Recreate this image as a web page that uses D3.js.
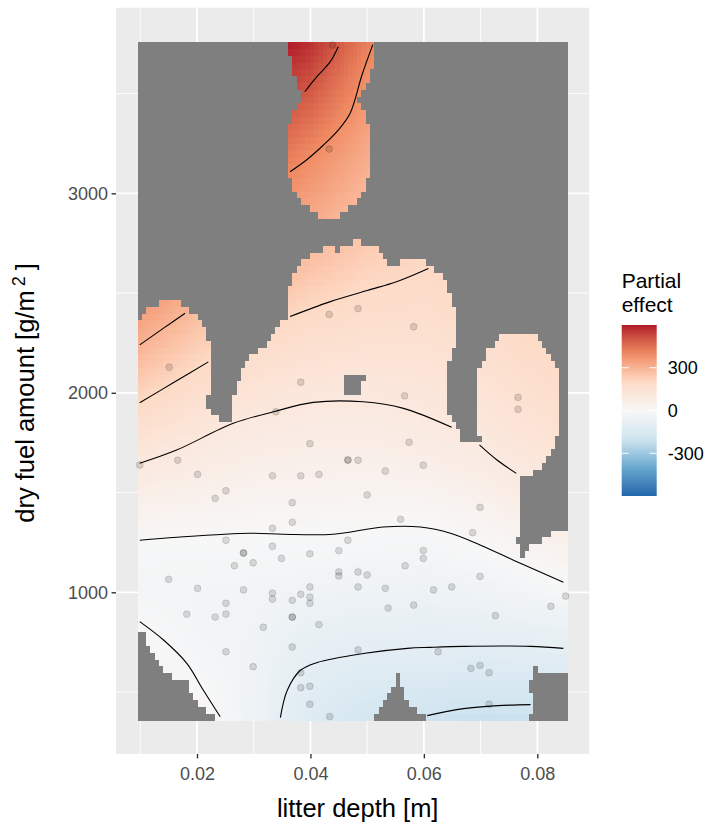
<!DOCTYPE html>
<html>
<head>
<meta charset="utf-8">
<script src="https://cdn.jsdelivr.net/npm/d3@7"></script>
<style>
  body { margin: 0; background: #fff; }
  text { font-family: "Liberation Sans", Arial, sans-serif; }
</style>
</head>
<body>
<div id="grafico"></div>
<script>
const WIDTH = 706;
const HEIGHT = 829;

// observations: litter depth [m] and dry fuel amount [g/m2]
const litterDepth = [0.0151,0.0433,0.0484,0.0582,0.0383,0.0566,0.0766,0.0766,0.0339,0.0399,
  0.0574,0.0099,0.0166,0.0466,0.0466,0.0484,0.0201,0.0333,0.0383,0.0415,
  0.0532,0.0599,0.0251,0.0232,0.0500,0.0368,0.0699,0.0559,0.0368,0.0333,
  0.0686,0.0251,0.0466,0.0333,0.0282,0.0282,0.0450,0.0599,0.0399,0.0349,
  0.0599,0.0299,0.0266,0.0567,0.0450,0.0450,0.0484,0.0500,0.0699,0.0150,
  0.0201,0.0282,0.0399,0.0484,0.0532,0.0617,0.0649,0.0333,0.0333,0.0383,
  0.0399,0.0368,0.0399,0.0251,0.0251,0.0182,0.0232,0.0368,0.0368,0.0537,
  0.0582,0.0824,0.0850,0.0726,0.0415,0.0317,0.0368,0.0251,0.0484,0.0625,
  0.0299,0.0683,0.0699,0.0715,0.0383,0.0383,0.0399,0.0399,0.0715,0.0434,
  0.0439,0.0433];
const dryFuel = [2128,2393,2422,2331,2053,1985,1977,1917,1905,1745,
  1752,1638,1662,1663,1663,1662,1591,1584,1584,1591,
  1608,1637,1509,1471,1488,1449,1426,1366,1351,1321,
  1299,1261,1261,1231,1197,1197,1209,1209,1193,1170,
  1170,1148,1133,1133,1102,1082,1102,1087,1080,1065,
  1020,1012,1027,1027,1020,1012,1027,996,966,990,
  976,960,945,945,891,891,876,876,876,921,
  936,930,981,883,838,825,726,702,711,702,
  627,619,634,597,597,522,529,439,439,377,
  3743,3222];

const gridDepth = [0.01, 0.02, 0.03, 0.04, 0.05, 0.06, 0.07, 0.0856];
const gridFuel = [370, 600, 800, 1000, 1200, 1400, 1600, 1800, 2000,
  2200, 2400, 2600, 2800, 3000, 3200, 3400, 3750];
const partialEffect = [
  [50, 30, -50, -135, -178, -205, -215, -210],
  [20, -8, -45, -106, -130, -136, -145, -135],
  [5, -25, -40, -76, -83, -87, -86, -75],
  [-20, -25, -30, -45, -51, -54, -47, -12],
  [-10, -10, -12, -14, -18, -21, -7, 40],
  [36, 27, 18, 17, 14, 13, 32, 88],
  [88, 70, 52, 47, 45, 50, 72, 125],
  [150, 116, 86, 77, 76, 86, 108, 155],
  [217, 168, 130, 110, 107, 115, 136, 180],
  [286, 220, 180, 153, 143, 143, 165, 205],
  [350, 275, 236, 196, 178, 171, 193, 230],
  [415, 330, 300, 250, 215, 199, 220, 255],
  [480, 385, 360, 300, 250, 225, 245, 280],
  [545, 440, 420, 350, 285, 250, 270, 305],
  [610, 500, 480, 398, 320, 275, 295, 330],
  [675, 560, 540, 462, 355, 300, 320, 355],
  [790, 670, 650, 570, 420, 345, 360, 400]
];

// contour lines as seen in the plot [depth, fuel]
const contours = [
  [[0.0099,1261],[0.0165,1276],[0.0294,1296],[0.0352,1291],[0.0440,1291],[0.0528,1327],
   [0.0594,1327],[0.0647,1296],[0.0700,1236],[0.0758,1161],[0.0846,1050]],
  [[0.0099,853],[0.0141,761],[0.0182,644],[0.0211,510],[0.0241,376]],
  [[0.0347,372],[0.0359,508],[0.0382,608],[0.0412,648],[0.0493,693],[0.0571,719],
   [0.0611,724],[0.0670,729],[0.0788,729],[0.0846,719]],
  [[0.0606,382],[0.0670,417],[0.0730,432],[0.0788,437]],
  [[0.0099,1647],[0.0164,1713],[0.0264,1847],[0.0335,1905],[0.0405,1952],[0.0493,1955],
   [0.0564,1922],[0.0649,1827]],
  [[0.0698,1739],[0.0729,1663],[0.0763,1596]],
  [[0.0099,1950],[0.0158,2050],[0.0220,2155]],
  [[0.0099,2240],[0.0141,2324],[0.0179,2399]],
  [[0.0364,2382],[0.0435,2457],[0.0500,2513],[0.0553,2558],[0.0608,2623]],
  [[0.0364,3108],[0.0393,3167],[0.0423,3242],[0.0449,3317],[0.0470,3401],[0.0491,3594],[0.0510,3745]],
  [[0.0390,3509],[0.0411,3584],[0.0435,3660],[0.0449,3735]]
];

const xTicks = [0.02, 0.04, 0.06, 0.08];
const xMinor = [0.01, 0.03, 0.05, 0.07];
const yTicks = [1000, 2000, 3000];
const yMinor = [500, 1500, 2500, 3500];
const legendTicks = [-300, 0, 300];
const effectLimits = [-600, 600];

let svg = d3.select("#grafico")
    .append("svg")
    .attr("width", WIDTH)
    .attr("height", HEIGHT);

let x = d3.scaleLinear().domain([0.02, 0.08]).range([197, 537.3]);
let y = d3.scaleLinear().domain([1000, 3000]).range([592.3, 193.3]);

let color = d3.scaleLinear()
    .domain(d3.range(7).map(i => effectLimits[0] + i * (effectLimits[1] - effectLimits[0]) / 6))
    .range(["#2166AC", "#67A9CF", "#D1E5F0", "#F7F7F7", "#FDDBC7", "#EF8A62", "#B2182B"])
    .interpolate(d3.interpolateLab)
    .clamp(true);

// grid of the raster, 100 x 100 over the data range
const N = 100;
let xr = d3.extent(litterDepth);
let yr = d3.extent(dryFuel);
let stepX = (xr[1] - xr[0]) / (N - 1);
let stepY = (yr[1] - yr[0]) / (N - 1);
let gx = d3.range(N).map(i => xr[0] + i * stepX);
let gy = d3.range(N).map(j => yr[0] + j * stepY);

// panel limits: raster extent plus 5% on each side
let limX = [xr[0] - stepX / 2, xr[1] + stepX / 2];
let limY = [yr[0] - stepY / 2, yr[1] + stepY / 2];
let padX = (limX[1] - limX[0]) * 0.05;
let padY = (limY[1] - limY[0]) * 0.05;
let panelLeft = x(limX[0] - padX), panelRight = x(limX[1] + padX);
let panelTop = y(limY[1] + padY), panelBottom = y(limY[0] - padY);

svg.append("rect")
    .attr("x", panelLeft).attr("y", panelTop)
    .attr("width", panelRight - panelLeft).attr("height", panelBottom - panelTop)
    .attr("fill", "#EBEBEB");

svg.selectAll(".minorX").data(xMinor).enter().append("line")
    .attr("x1", d => x(d)).attr("x2", d => x(d))
    .attr("y1", panelTop).attr("y2", panelBottom)
    .attr("stroke", "#fff").attr("stroke-width", 0.9);
svg.selectAll(".minorY").data(yMinor).enter().append("line")
    .attr("y1", d => y(d)).attr("y2", d => y(d))
    .attr("x1", panelLeft).attr("x2", panelRight)
    .attr("stroke", "#fff").attr("stroke-width", 0.9);
svg.selectAll(".majorX").data(xTicks).enter().append("line")
    .attr("x1", d => x(d)).attr("x2", d => x(d))
    .attr("y1", panelTop).attr("y2", panelBottom)
    .attr("stroke", "#fff").attr("stroke-width", 1.8);
svg.selectAll(".majorY").data(yTicks).enter().append("line")
    .attr("y1", d => y(d)).attr("y2", d => y(d))
    .attr("x1", panelLeft).attr("x2", panelRight)
    .attr("stroke", "#fff").attr("stroke-width", 1.8);

function effectAt(px, py) {
    let i = Math.min(Math.max(d3.bisectRight(gridDepth, px) - 1, 0), gridDepth.length - 2);
    let j = Math.min(Math.max(d3.bisectRight(gridFuel, py) - 1, 0), gridFuel.length - 2);
    let tx = Math.min(Math.max((px - gridDepth[i]) / (gridDepth[i + 1] - gridDepth[i]), 0), 1);
    let ty = Math.min(Math.max((py - gridFuel[j]) / (gridFuel[j + 1] - gridFuel[j]), 0), 1);
    let a = partialEffect[j][i], b = partialEffect[j][i + 1];
    let c = partialEffect[j + 1][i], d = partialEffect[j + 1][i + 1];
    return (a * (1 - tx) + b * tx) * (1 - ty) + (c * (1 - tx) + d * tx) * ty;
}

// too far from data -> masked (distance in unit square)
function tooFar(px, py) {
    let best = Infinity;
    for (let k = 0; k < litterDepth.length; k++) {
        let dx = (px - litterDepth[k]) / (xr[1] - xr[0]);
        let dy = (py - dryFuel[k]) / (yr[1] - yr[0]);
        best = Math.min(best, dx * dx + dy * dy);
    }
    return Math.sqrt(best) > 0.1;
}

let cells = [];
gx.forEach(cx => gy.forEach(cy => {
    cells.push({cx: cx, cy: cy, na: tooFar(cx, cy), v: effectAt(cx, cy)});
}));

let raster = svg.append("g").attr("shape-rendering", "crispEdges");
raster.selectAll("rect")
    .data(cells)
    .enter()
    .append("rect")
    .attr("x", d => x(d.cx - stepX / 2))
    .attr("y", d => y(d.cy + stepY / 2))
    .attr("width", x(stepX) - x(0) + 0.6)
    .attr("height", y(0) - y(stepY) + 0.6)
    .attr("fill", d => d.na ? "#7F7F7F" : color(d.v));

let line = d3.line()
    .x(d => x(d[0]))
    .y(d => y(d[1]))
    .curve(d3.curveCatmullRom.alpha(0.5));
svg.append("g").selectAll("path")
    .data(contours)
    .enter()
    .append("path")
    .attr("d", line)
    .attr("fill", "none")
    .attr("stroke", "#000")
    .attr("stroke-width", 1.1);

svg.append("g").selectAll("circle")
    .data(litterDepth)
    .enter()
    .append("circle")
    .attr("cx", d => x(d))
    .attr("cy", (d, i) => y(dryFuel[i]))
    .attr("r", 3.4)
    .attr("fill", "#000").attr("fill-opacity", 0.13)
    .attr("stroke", "#000").attr("stroke-opacity", 0.13).attr("stroke-width", 1);

// axes
let xAxis = svg.append("g")
    .attr("transform", "translate(0," + panelBottom + ")")
    .call(d3.axisBottom(x).tickValues(xTicks).tickFormat(d3.format(".2f")).tickSize(4.5).tickPadding(8.5).tickSizeOuter(0));
let yAxis = svg.append("g")
    .attr("transform", "translate(" + panelLeft + ",0)")
    .call(d3.axisLeft(y).tickValues(yTicks).tickFormat(d3.format("d")).tickSize(4.5).tickPadding(3.5).tickSizeOuter(0));
[xAxis, yAxis].forEach(g => {
    g.select(".domain").remove();
    g.selectAll(".tick line").attr("stroke", "#333").attr("stroke-width", 1.4);
    g.selectAll(".tick text")
        .attr("fill", "#4D4D4D")
        .style("font-size", "18px")
        .style("font-family", "'Liberation Sans', Arial, sans-serif");
});

svg.append("text")
    .attr("x", (panelLeft + panelRight) / 2 + 5)
    .attr("y", 817)
    .attr("text-anchor", "middle")
    .style("font-size", "25.5px")
    .attr("fill", "#000")
    .text("litter depth [m]");

let yTitle = svg.append("text")
    .attr("transform", "translate(33.5,393) rotate(-90)")
    .attr("text-anchor", "middle")
    .style("font-size", "25.5px")
    .attr("fill", "#000");
yTitle.append("tspan").text("dry fuel amount [g/m");
yTitle.append("tspan").attr("dx", 4).attr("dy", -9).style("font-size", "18px").text("2");
yTitle.append("tspan").attr("dx", 6).attr("dy", 9).text("]");

// legend
let legX = 621.7, legY = 325, legW = 35, legH = 171;
let legScale = d3.scaleLinear().domain(effectLimits).range([legY + legH, legY]);
let grad = svg.append("defs").append("linearGradient")
    .attr("id", "legGrad")
    .attr("x1", "0").attr("y1", "1").attr("x2", "0").attr("y2", "0");
d3.range(0, 1.0001, 0.05).forEach(t => {
    grad.append("stop")
        .attr("offset", t)
        .attr("stop-color", color(effectLimits[0] + t * (effectLimits[1] - effectLimits[0])));
});
svg.append("rect")
    .attr("x", legX).attr("y", legY)
    .attr("width", legW).attr("height", legH)
    .attr("fill", "url(#legGrad)");
legendTicks.forEach(t => {
    svg.append("line")
        .attr("x1", legX).attr("x2", legX + 7)
        .attr("y1", legScale(t)).attr("y2", legScale(t))
        .attr("stroke", "#fff").attr("stroke-width", 1);
    svg.append("line")
        .attr("x1", legX + legW - 7).attr("x2", legX + legW)
        .attr("y1", legScale(t)).attr("y2", legScale(t))
        .attr("stroke", "#fff").attr("stroke-width", 1);
    svg.append("text")
        .attr("x", legX + legW + 11)
        .attr("y", legScale(t))
        .attr("dy", "0.35em")
        .style("font-size", "18px")
        .attr("fill", "#000")
        .text(t);
});
svg.append("text")
    .attr("x", legX).attr("y", 288)
    .style("font-size", "21px")
    .text("Partial");
svg.append("text")
    .attr("x", legX).attr("y", 312)
    .style("font-size", "21px")
    .text("effect");
</script>
</body>
</html>
